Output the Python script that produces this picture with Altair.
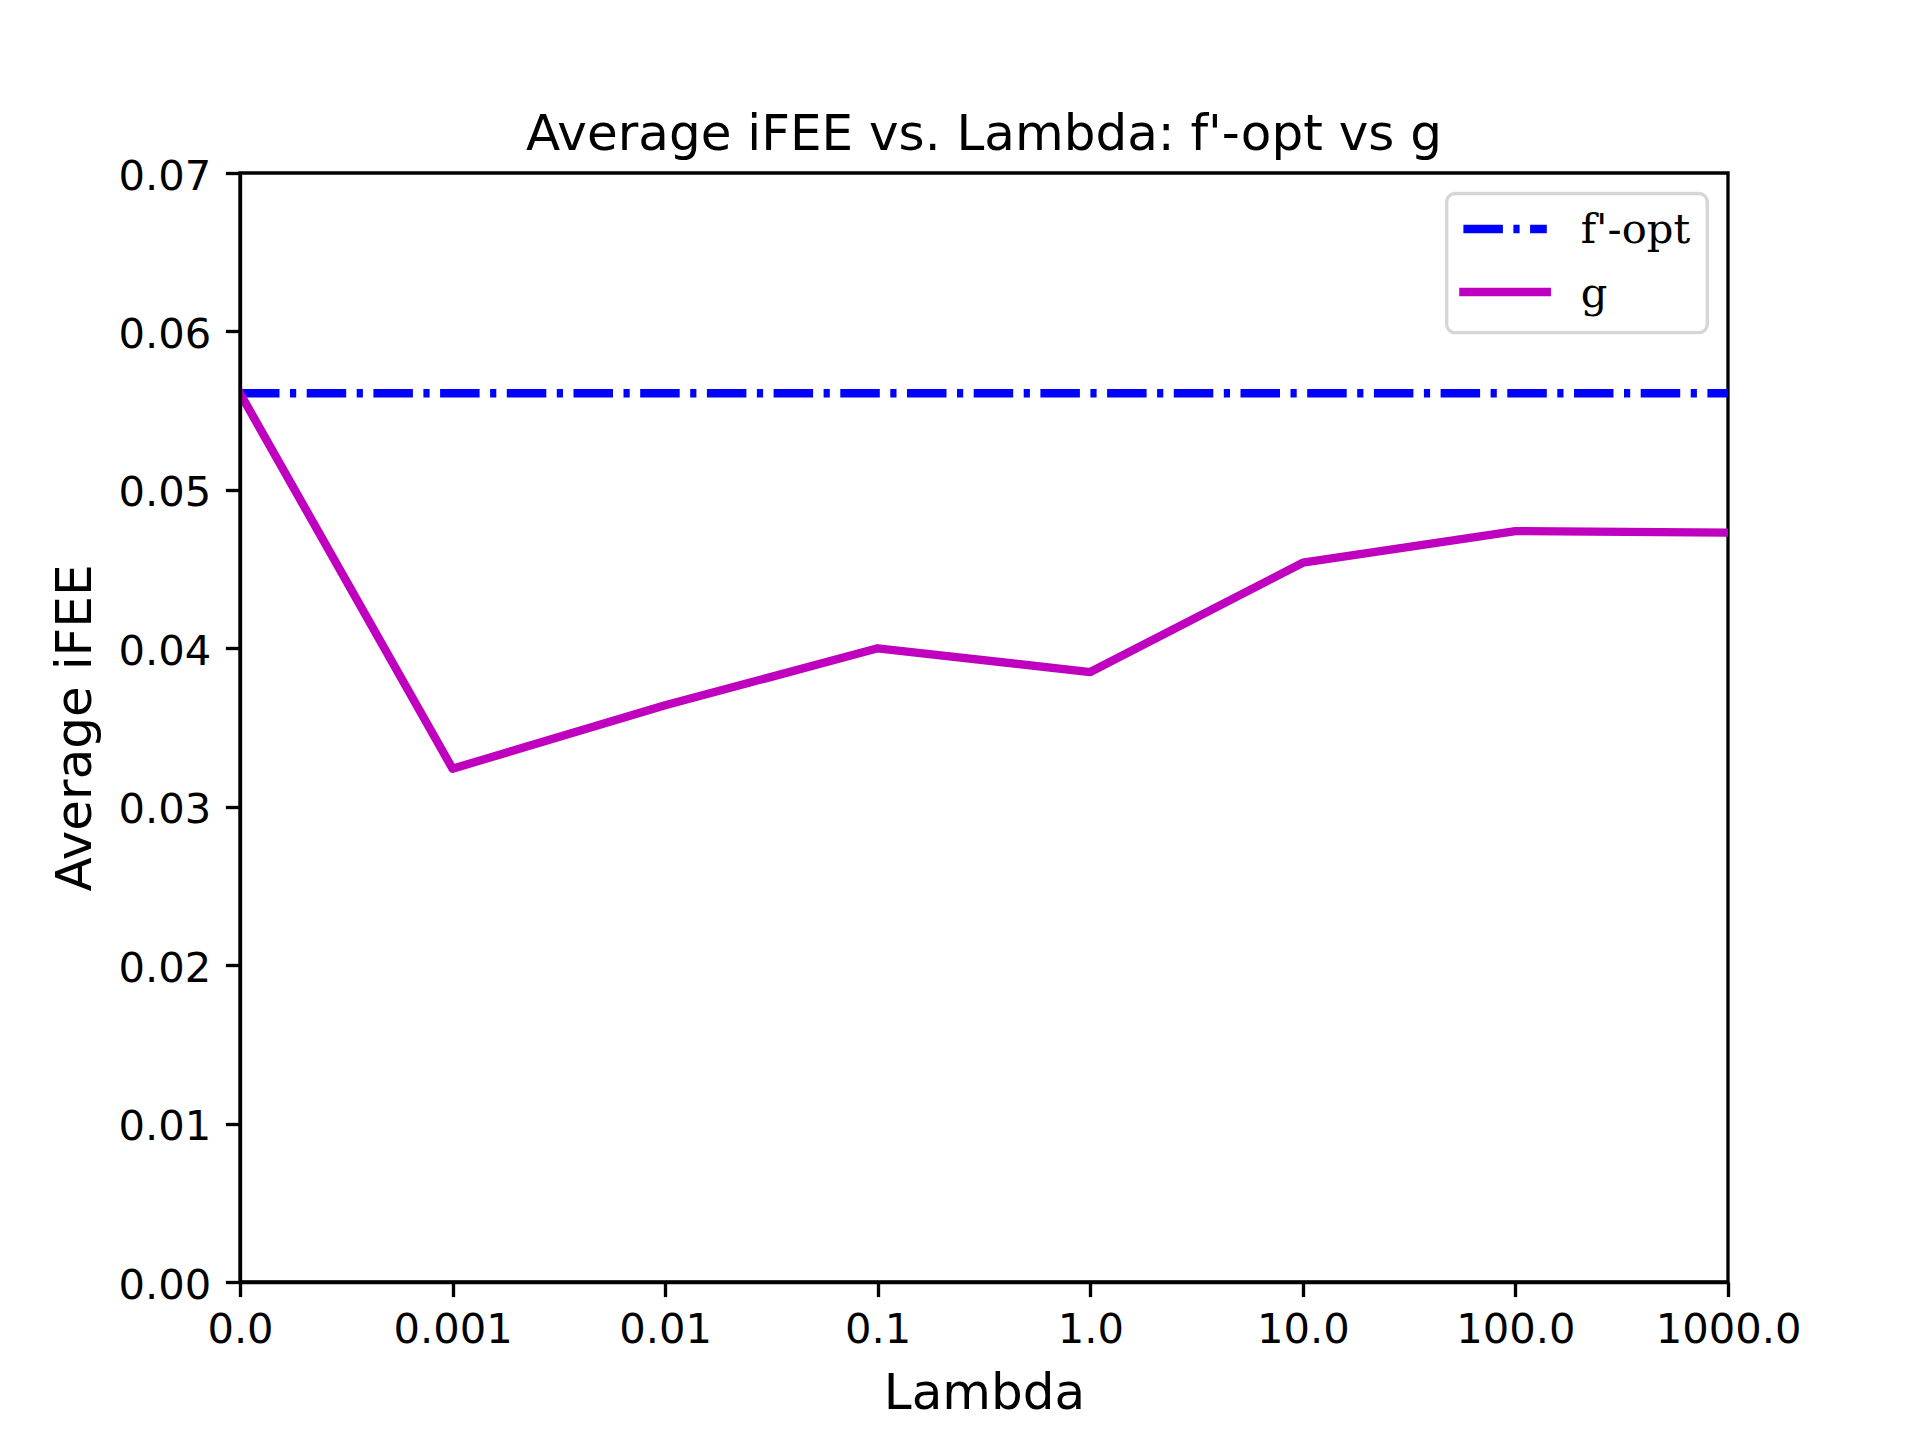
import altair as alt
import pandas as pd

# ---- data ----
lambdas = ["0.0", "0.001", "0.01", "0.1", "1.0", "10.0", "100.0", "1000.0"]
fopt_values = [0.0561, 0.0561, 0.0561, 0.0561, 0.0561, 0.0561, 0.0561, 0.0561]
g_values = [0.0561, 0.0324, 0.0364, 0.0400, 0.0385, 0.0454, 0.0474, 0.0473]
y_ticks = [0.0, 0.01, 0.02, 0.03, 0.04, 0.05, 0.06, 0.07]
legend_labels = ["f'-opt", "g"]
series_colors = ["#0000ff", "#bf00bf"]

W, H = 1488, 1109
PT = 300 / 72.0
TICK_FS = 10 * PT
LABEL_FS = 12 * PT
LW = 2 * PT
SPINE = 0.8 * PT

df_f = pd.DataFrame({"lam": lambdas, "val": fopt_values})
df_g = pd.DataFrame({"lam": lambdas, "val": g_values})

x_enc = alt.X(
    "lam:N",
    sort=lambdas,
    scale=alt.Scale(padding=0),
    axis=alt.Axis(
        title="Lambda",
        labelAngle=0,
        labelFont="DejaVu Sans",
        labelFontSize=TICK_FS,
        labelColor="black",
        labelBaseline="top",
        labelPadding=13.2,
        tickSize=3.5 * PT,
        tickWidth=SPINE,
        tickColor="black",
        domain=True,
        domainColor="black",
        domainWidth=SPINE,
        grid=False,
        titleFont="DejaVu Sans",
        titleFontSize=LABEL_FS,
        titleFontWeight="normal",
        titleColor="black",
        titleBaseline="alphabetic",
        titleAlign="center",
        titleX=W / 2,
        titleY=126,
        labelOverlap=False,
        zindex=1,
    ),
)

y_enc = alt.Y(
    "val:Q",
    scale=alt.Scale(domain=[0, 0.07], nice=False, zero=True),
    axis=alt.Axis(
        title="Average iFEE",
        values=y_ticks,
        format=".2f",
        labelFont="DejaVu Sans",
        labelFontSize=TICK_FS,
        labelColor="black",
        labelAlign="right",
        labelBaseline="middle",
        labelOffset=3,
        labelPadding=3.5 * PT,
        tickSize=3.5 * PT,
        tickWidth=SPINE,
        tickColor="black",
        domain=True,
        domainColor="black",
        domainWidth=SPINE,
        grid=False,
        titleFont="DejaVu Sans",
        titleFontSize=LABEL_FS,
        titleFontWeight="normal",
        titleColor="black",
        titleAngle=270,
        titleBaseline="alphabetic",
        titleAlign="center",
        titleX=-150,
        titleY=H / 2,
        labelOverlap=False,
        zindex=1,
    ),
)

line_f = alt.Chart(df_f).mark_line(
    color=series_colors[0],
    strokeWidth=LW,
    strokeDash=[39.5, 10.5, 6.2, 10.5],
    strokeCap="butt",
    clip=True,
).encode(x=x_enc, y=y_enc)

line_g = alt.Chart(df_g).mark_line(
    color=series_colors[1],
    strokeWidth=LW,
    strokeCap="square",
    strokeJoin="round",
    clip=True,
).encode(x=x_enc, y=y_enc)

# ---- legend (drawn as decoration in pixel space) ----
leg_box = alt.Chart(pd.DataFrame({"k": [0]})).mark_rect(
    fill="white",
    fillOpacity=0.8,
    stroke="#d6d6d6",
    strokeWidth=SPINE,
    cornerRadius=0.2 * TICK_FS,
).encode(
    x=alt.value(1206.7), x2=alt.value(1467.3),
    y=alt.value(20.5), y2=alt.value(159.7),
)

leg_f_line = alt.Chart(pd.DataFrame({"k": [0]})).mark_rule(
    color=series_colors[0],
    strokeWidth=LW,
    strokeDash=[39.5, 10.5, 6.2, 10.5],
    strokeCap="butt",
).encode(x=alt.value(1223.4), x2=alt.value(1306.8), y=alt.value(56))

leg_g_line = alt.Chart(pd.DataFrame({"k": [0]})).mark_rule(
    color=series_colors[1],
    strokeWidth=LW,
    strokeCap="square",
).encode(x=alt.value(1223.4), x2=alt.value(1306.8), y=alt.value(119))

leg_f_text = alt.Chart(pd.DataFrame({"t": [legend_labels[0]]})).mark_text(
    font="DejaVu Serif", fontSize=TICK_FS, align="left", baseline="alphabetic", color="black"
).encode(text="t:N", x=alt.value(1340.7), y=alt.value(70))

leg_g_text = alt.Chart(pd.DataFrame({"t": [legend_labels[1]]})).mark_text(
    font="DejaVu Serif", fontSize=TICK_FS, align="left", baseline="alphabetic", color="black"
).encode(text="t:N", x=alt.value(1340.7), y=alt.value(133.7))

chart = alt.layer(
    line_f, line_g, leg_box, leg_f_line, leg_g_line, leg_f_text, leg_g_text
).properties(
    width=W,
    height=H,
    title=alt.TitleParams(
        text="Average iFEE vs. Lambda: f'-opt vs g",
        font="DejaVu Sans",
        fontSize=LABEL_FS,
        fontWeight="normal",
        color="black",
        anchor="middle",
        baseline="alphabetic",
        offset=25,
        dy=68.6,
        frame="group",
    ),
    autosize=alt.AutoSizeParams(type="none"),
    padding={"left": 232, "top": 165, "right": 170, "bottom": 140},
    background="white",
).configure_view(
    stroke="black", strokeWidth=SPINE
)

chart.save("out.html", embed_options={"renderer": "svg", "actions": False})
